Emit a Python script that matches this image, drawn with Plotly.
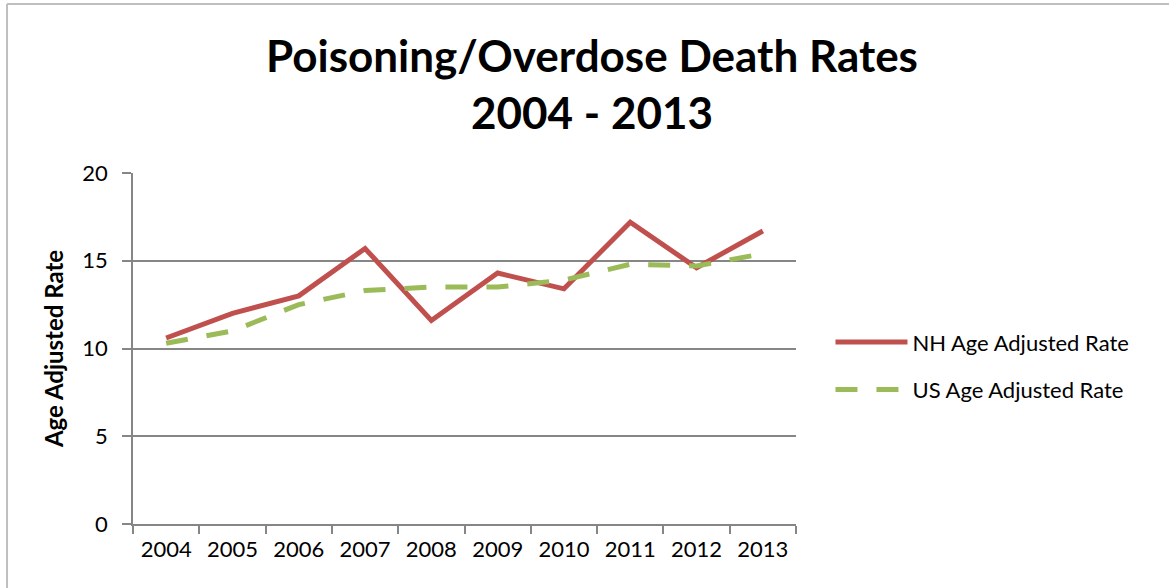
import plotly.graph_objects as go

# Poisoning/overdose death rates per 100,000 (age adjusted)
years = ["2004", "2005", "2006", "2007", "2008", "2009", "2010", "2011", "2012", "2013"]
nh_rate = [10.6, 12.0, 13.0, 15.7, 11.6, 14.3, 13.4, 17.2, 14.6, 16.7]
us_rate = [10.3, 11.0, 12.5, 13.3, 13.5, 13.5, 13.9, 14.8, 14.7, 15.4]
y_ticks = [0, 5, 10, 15, 20]

FONT = "Lato"
AXIS_GREY = "#868686"
NH_RED = "#C0504D"
US_GREEN = "#9BBB59"

fig = go.Figure()
fig.add_trace(go.Scatter(
    x=years, y=nh_rate, mode="lines", name="NH Age Adjusted Rate",
    legendgroup="nh", line=dict(color=NH_RED, width=5),
))
fig.add_trace(go.Scatter(
    x=years, y=us_rate, mode="lines", name="US Age Adjusted Rate",
    legendgroup="us", line=dict(color=US_GREEN, width=5, dash="22px,19px"),
))

fig.update_layout(
    width=1169, height=588,
    margin=dict(l=133, r=373, t=173, b=64),
    paper_bgcolor="white", plot_bgcolor="white",
    font=dict(family=FONT, size=22, color="black"),
    title=dict(
        text="<b>Poisoning/Overdose Death Rates<br>2004 - 2013</b>",
        x=592 / 1169, xref="container", xanchor="center",
        y=1 - 72 / 588, yref="container", yanchor="top",
        font=dict(family=FONT, size=44, color="black"),
    ),
    showlegend=True,
    legend=dict(
        x=1.052, xanchor="left", y=0.578, yanchor="top",
        font=dict(family=FONT, size=22, color="black"),
        itemwidth=72, tracegroupgap=16, bgcolor="rgba(0,0,0,0)",
    ),
    shapes=[
        dict(type="line", xref="paper", yref="paper", x0=-0.19, x1=1.6,
             y0=1.4815, y1=1.4815, line=dict(color="#BFBFBF", width=2)),
        dict(type="line", xref="paper", yref="paper", x0=-0.19, x1=-0.19,
             y0=1.4815, y1=-0.3, line=dict(color="#BFBFBF", width=2)),
    ],
)

fig.update_xaxes(
    type="category", range=[-0.5, 9.5],
    showline=True, linecolor=AXIS_GREY, linewidth=1.5,
    ticks="outside", tickson="boundaries", ticklen=8, tickcolor=AXIS_GREY, tickwidth=1.5,
    showgrid=False, zeroline=False, ticklabelstandoff=5,
    tickfont=dict(family=FONT, size=22, color="black"),
)
fig.update_yaxes(
    range=[0, 20], tickvals=y_ticks,
    showline=True, linecolor=AXIS_GREY, linewidth=1.5,
    ticks="outside", ticklen=9, tickcolor=AXIS_GREY, tickwidth=1.5,
    showgrid=True, gridcolor=AXIS_GREY, gridwidth=1.5, zeroline=False,
    ticklabelstandoff=10,
    tickfont=dict(family=FONT, size=22, color="black"),
    title=dict(text="<b>Age Adjusted Rate</b>", standoff=12,
               font=dict(family=FONT, size=24, color="black")),
)

fig.write_html("out.html")
